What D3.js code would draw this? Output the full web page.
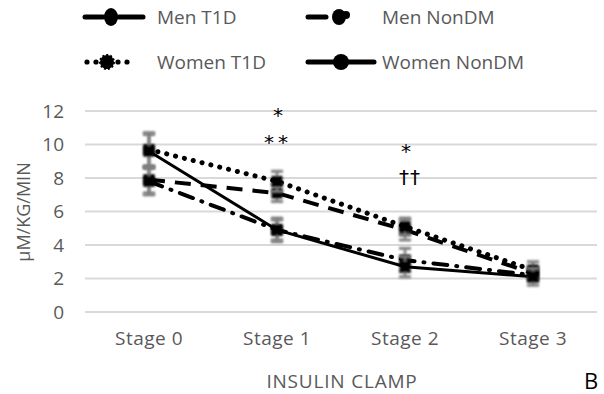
<!DOCTYPE html>
<html><head><meta charset="utf-8">
<script src="https://cdn.jsdelivr.net/npm/d3@7"></script>
<style>body{margin:0;background:#fff}svg{display:block}text{font-family:"Open Sans",sans-serif}</style>
</head><body><svg id="c" width="604" height="394"></svg>
<script>
const stages = ["Stage 0","Stage 1","Stage 2","Stage 3"];
const yTicks = [0,2,4,6,8,10,12];
const seriesNames = ["Men T1D","Men NonDM","Women T1D","Women NonDM"];
const menT1D = [7.9, 7.1, 4.9, 2.3];
const menNonDM = [7.8, 4.9, 3.1, 2.2];
const womenT1D = [9.7, 7.8, 5.1, 2.5];
const womenNonDM = [9.6, 4.9, 2.7, 2.1];
const errMenT1D = [0.8, 0.5, 0.6, 0.4];
const errMenNonDM = [0.8, 0.6, 0.7, 0.4];
const errWomenT1D = [1.0, 0.6, 0.5, 0.5];
const errWomenNonDM = [1.0, 0.7, 0.6, 0.5];
const annotations = [
  {stage:"Stage 1", y:11.94, text:"*"},
  {stage:"Stage 1", y:10.33, text:"**"},
  {stage:"Stage 2", y:9.79, text:"*"},
  {stage:"Stage 2", y:8.06, text:"††"}
];

const svg = d3.select("#c");
const x = d3.scaleBand().domain(stages).range([85,597]);
const y = d3.scaleLinear().domain([0,12]).range([312,111]);
const cx = s => x(s) + x.bandwidth()/2;

const defs = svg.append("defs");
defs.append("filter").attr("id","blur").append("feGaussianBlur").attr("stdDeviation",0.9);

// gridlines
svg.append("g").selectAll("line").data(yTicks).join("line")
  .attr("x1",85).attr("x2",597).attr("y1",d=>y(d)).attr("y2",d=>y(d))
  .attr("stroke","#d9d9d9").attr("stroke-width",2);

// y axis labels
const yAxis = d3.axisLeft(y).tickValues(yTicks).tickSize(0).tickPadding(0);
const gy = svg.append("g").attr("transform","translate(64,0)").call(yAxis);
gy.select(".domain").remove();
gy.selectAll("text").attr("fill","#595959").style("font-size","19px").style("font-family","'Open Sans',sans-serif");

// x axis labels
const xAxis = d3.axisBottom(x).tickSize(0).tickPadding(0);
const gx = svg.append("g").attr("transform","translate(0,331)").call(xAxis);
gx.select(".domain").remove();
gx.selectAll("text").attr("fill","#595959").style("font-size","19px").style("letter-spacing","0.5px").style("font-family","'Open Sans',sans-serif");

svg.append("text").attr("x",342).attr("y",388).attr("text-anchor","middle")
  .attr("fill","#595959").style("font-size","19px").style("letter-spacing","0.8px").text("INSULIN CLAMP");
svg.append("text").attr("x",584).attr("y",389).attr("fill","#000").style("font-size","22px").text("B");
svg.append("text").attr("transform","translate(30,212) rotate(-90)").attr("text-anchor","middle")
  .attr("fill","#595959").style("font-size","18px").text("µM/KG/MIN");

const series = [
  {name:seriesNames[0], vals:menT1D, err:errMenT1D, dash:"16,10", cap:"butt", w:4},
  {name:seriesNames[1], vals:menNonDM, err:errMenNonDM, dash:"14,9,1,9", cap:"round", w:4},
  {name:seriesNames[2], vals:womenT1D, err:errWomenT1D, dash:"0.1,9", cap:"round", w:5},
  {name:seriesNames[3], vals:womenNonDM, err:errWomenNonDM, dash:null, cap:"butt", w:3}
];

const line = d3.line().x(d=>cx(d.s)).y(d=>y(d.v));
series.forEach(s => {
  const pts = stages.map((st,i)=>({s:st, v:s.vals[i], e:s.err[i]}));
  svg.append("path").datum(pts).attr("d",line).attr("fill","none")
    .attr("stroke","#000").attr("stroke-width",s.w)
    .attr("stroke-dasharray",s.dash).attr("stroke-linecap",s.cap);
});
series.forEach(s => {
  const pts = stages.map((st,i)=>({s:st, v:s.vals[i], e:s.err[i]}));
  const g = svg.append("g").attr("filter","url(#blur)");
  g.selectAll("line.e").data(pts).join("line")
    .attr("x1",d=>cx(d.s)).attr("x2",d=>cx(d.s)).attr("y1",d=>y(d.v+d.e)).attr("y2",d=>y(d.v-d.e))
    .attr("stroke","#7f7f7f").attr("stroke-width",2.5);
  ["+","-"].forEach(sg=>{
    g.selectAll("line.c"+(sg=="+"?"p":"m")).data(pts).join("line")
      .attr("x1",d=>cx(d.s)-6).attr("x2",d=>cx(d.s)+6)
      .attr("y1",d=>y(sg=="+"?d.v+d.e:d.v-d.e)).attr("y2",d=>y(sg=="+"?d.v+d.e:d.v-d.e))
      .attr("stroke","#7f7f7f").attr("stroke-width",3);
  });
  g.selectAll("rect").data(pts).join("rect")
    .attr("x",d=>cx(d.s)-5.5).attr("y",d=>y(d.v)-5.5).attr("width",11).attr("height",11)
    .attr("fill","#000");
});

// annotations
svg.append("g").selectAll("text").data(annotations).join("text")
  .attr("x",d=>cx(d.stage)+(d.text==="††"?5:1)).attr("y",d=>y(d.y)+(d.text==="††"?7:10)).attr("text-anchor","middle")
  .attr("fill","#000").style("font-family","'DejaVu Sans',sans-serif")
  .style("font-size",d=>d.text==="††"?"20px":"20px").style("letter-spacing",d=>d.text==="**"?"4px":(d.text==="††"?"1px":"0px")).text(d=>d.text);

// legend
const legendPos = [{x:85,y:17,tx:157},{x:308,y:17,tx:382},{x:85,y:62,tx:157},{x:308,y:62,tx:382}];
series.forEach((s,i)=>{
  const p = legendPos[i];
  const g = svg.append("g");
  if (i===0) {
    g.append("line").attr("x1",p.x).attr("x2",p.x+18).attr("y1",p.y).attr("y2",p.y).attr("stroke","#000").attr("stroke-width",5).attr("stroke-linecap","round");
    g.append("line").attr("x1",p.x+34).attr("x2",p.x+58).attr("y1",p.y).attr("y2",p.y).attr("stroke","#000").attr("stroke-width",5).attr("stroke-linecap","round");
    g.append("ellipse").attr("cx",p.x+26).attr("cy",p.y).attr("rx",7).attr("ry",9).attr("fill","#000");
  } else if (i===1) {
    g.append("line").attr("x1",p.x).attr("x2",p.x+18).attr("y1",p.y).attr("y2",p.y).attr("stroke","#000").attr("stroke-width",5).attr("stroke-linecap","round");
    g.append("ellipse").attr("cx",p.x+31).attr("cy",p.y).attr("rx",7).attr("ry",8).attr("fill","#000");
    g.append("circle").attr("cx",p.x+38).attr("cy",p.y-2).attr("r",4).attr("fill","#000");
  } else if (i===2) {
    [0,9,31,40].forEach(o=>g.append("circle").attr("cx",p.x+o+2).attr("cy",p.y).attr("r",2.6).attr("fill","#000"));
    g.append("circle").attr("cx",p.x+22).attr("cy",p.y).attr("r",7).attr("fill","#000").attr("stroke","#000").attr("stroke-width",2).attr("stroke-dasharray","2,2");
  } else {
    g.append("line").attr("x1",p.x).attr("x2",p.x+66).attr("y1",p.y).attr("y2",p.y).attr("stroke","#000").attr("stroke-width",5).attr("stroke-linecap","round");
    g.append("circle").attr("cx",p.x+33).attr("cy",p.y).attr("r",8).attr("fill","#000");
  }
  g.append("text").attr("x",p.tx).attr("y",p.y+7).attr("fill","#595959").style("font-size","19px").text(s.name);
});
</script></body></html>
